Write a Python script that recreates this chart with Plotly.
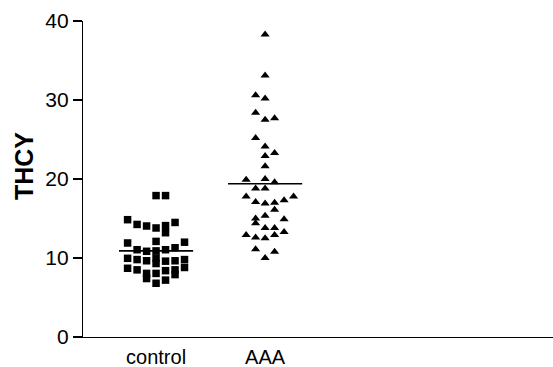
import plotly.graph_objects as go

categories = ["control", "AAA"]
category_pos = [1, 2]

control_values = [17.9, 17.9, 14.85, 14.25, 14.05, 13.8, 14.1, 13.2, 14.5,
                  11.9, 12.1, 12.0, 11.05, 10.85, 10.9, 11.05, 11.3,
                  9.96, 9.8, 9.65, 10.0, 9.6, 9.65, 9.8,
                  8.7, 8.5, 8.05, 7.4, 9.3, 8.05, 8.4, 7.2, 8.5, 7.9, 8.8, 6.8]
control_slots = [0, 1, -3, -2, -1, 0, 1, 1, 2,
                 -3, 0, 3, -2, -1, 0, 1, 2,
                 -3, -2, -1, 0, 1, 2, 3,
                 -3, -2, -1, -1, 0, 0, 1, 1, 2, 2, 3, 0]

aaa_values = [38.3, 33.1, 30.6, 30.2, 28.4, 27.5, 27.7, 25.2, 24.1,
              22.9, 23.3, 21.6, 19.9, 20.0, 19.6, 18.8, 18.8,
              17.8, 17.1, 16.9, 17.0, 17.3, 17.8, 16.1,
              15.0, 15.35, 14.9, 14.4, 13.8, 13.8,
              12.9, 12.6, 12.5, 12.9, 13.3, 11.1, 10.8, 10.0]
aaa_slots = [0, 0, -1, 0, -1, 0, 1, -1, 0,
             0, 1, 0, -2, 0, 1, -1, 0,
             -2, -1, 0, 1, 2, 3, 1,
             -1, 0, 2, -1, 0, 1,
             -2, -1, 0, 1, 2, -1, 1, 0]

medians = [10.9, 19.4]

y_ticks = [0, 10, 20, 30, 40]
y_title = "THCY"

SLOT_W = 0.087
HALF = 0.34

fig = go.Figure()
fig.add_trace(go.Scatter(
    x=[category_pos[0] + s * SLOT_W for s in control_slots], y=control_values,
    mode="markers", marker=dict(symbol="square", size=7.5, color="black"),
    showlegend=False, hoverinfo="skip"))
fig.add_trace(go.Scatter(
    x=[category_pos[1] + s * SLOT_W for s in aaa_slots], y=aaa_values,
    mode="markers", marker=dict(symbol="triangle-up", size=8, color="black"),
    showlegend=False, hoverinfo="skip"))
for p, m in zip(category_pos, medians):
    fig.add_trace(go.Scatter(x=[p - HALF, p + HALF], y=[m, m], mode="lines",
                             line=dict(color="black", width=1.6),
                             showlegend=False, hoverinfo="skip"))

fig.update_layout(
    width=553, height=367,
    margin=dict(l=83, r=0, t=21, b=30),
    plot_bgcolor="white", paper_bgcolor="white",
    font=dict(family="Liberation Sans, Arial, sans-serif", color="black", size=20),
    xaxis=dict(range=[0.33, 4.64], tickvals=category_pos, ticktext=categories,
               showgrid=False, zeroline=False, showline=True, linecolor="black",
               linewidth=1.2, ticks="outside", ticklen=2, tickcolor="rgba(0,0,0,0)",
               tickfont=dict(size=20), automargin=False),
    yaxis=dict(range=[0, 40], tickvals=y_ticks, showgrid=False, zeroline=False,
               showline=True, linecolor="black", linewidth=1.2, ticks="outside",
               ticklen=9, tickwidth=1.2, tickcolor="black", tickfont=dict(size=21),
               automargin=False),
    annotations=[dict(text="<b>" + y_title + "</b>", xref="paper", yref="paper",
                      x=-0.1255, y=0.541, xanchor="center", yanchor="middle",
                      textangle=-90, showarrow=False, font=dict(size=25))],
)

fig.write_html("out.html",
               config={"displayModeBar": False, "staticPlot": True},
               post_script="document.body.style.margin='0';"
                           "document.body.style.overflow='hidden';")
